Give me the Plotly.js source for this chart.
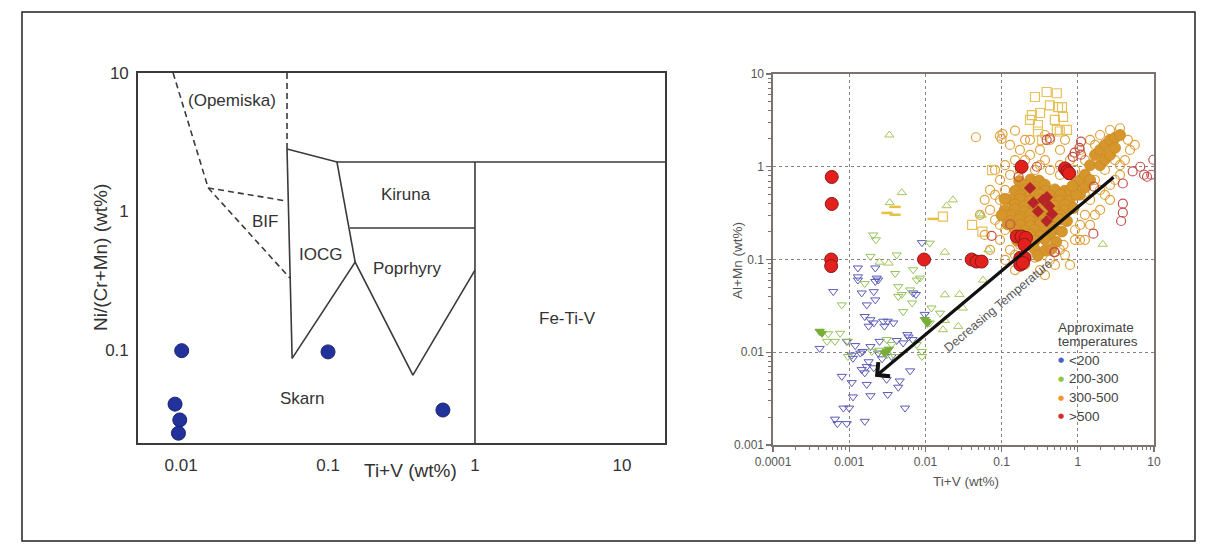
<!DOCTYPE html>
<html><head><meta charset="utf-8">
<script src="https://cdn.plot.ly/plotly-3.0.1.min.js"></script>
<style>html,body{margin:0;padding:0;background:#fff}#chart{width:1216px;height:554px}</style>
</head><body><div id="chart"></div>
<script>
// ---------- Left panel: Ni/(Cr+Mn) vs Ti+V discrimination diagram ----------
const oreX = [0.0101, 0.0091, 0.0098, 0.0096, 0.1, 0.605];
const oreY = [0.099, 0.0407, 0.0313, 0.0251, 0.097, 0.0369];
// field boundaries (solid), segments separated by null
const fieldSolidX = [0.0526, 0.115, 25, null, 0.0526, 0.057, null, 0.115, 0.153, null, 0.057, 0.153, 0.378, 1, null, 0.141, 1, null, 1, 1];
const fieldSolidY = [2.83, 2.28, 2.28, null, 2.83, 0.087, null, 2.28, 0.432, null, 0.087, 0.432, 0.066, 0.378, null, 0.76, 0.76, null, 2.28, 0.01];
// field boundaries (dashed)
const fieldDashX = [0.00883, 0.0153, 0.055, null, 0.0153, 0.0526, null, 0.0526, 0.0526];
const fieldDashY = [10, 1.48, 0.331, null, 1.48, 1.19, null, 10, 2.83];
const fieldNames = ['(Opemiska)', 'BIF', 'IOCG', 'Kiruna', 'Poprhyry', 'Fe-Ti-V', 'Skarn'];
const fieldLabelX = [0.0222, 0.0373, 0.0895, 0.34, 0.35, 4.29, 0.0665];
const fieldLabelY = [6.38, 0.854, 0.493, 1.32, 0.39, 0.17, 0.045];
const leftXTicks = [0.01, 0.1, 1, 10];
const leftXTickText = ['0.01', '0.1', '1', '10'];
const leftYTicks = [0.1, 1, 10];
const leftYTickText = ['0.1', '1', '10'];

// ---------- Right panel: Al+Mn vs Ti+V by temperature ----------
const lt200X = [0.000618,0.00146,0.0021,0.0017,0.0022,0.0016,0.0019,0.0021,0.0018,0.0028,0.0032,0.0038,0.0029,0.006,0.0068,0.0098,0.0051,0.0042,0.00041,0.00108,0.00112,0.0014,0.0015,0.0018,0.0017,0.0021,0.00146,0.0016,0.0008,0.00108,0.0017,0.0031,0.0046,0.0044,0.0019,0.0032,0.0063,0.00112,0.001,0.00084,0.00065,0.0007,0.00093,0.0016,0.0054,0.0024,0.0013,0.0069,0.0075,0.00093,0.0058,0.009,0.0013,0.0022,0.0013,0.0023,0.0022,0.0025,0.0012,0.0036,0.0024,0.0019,0.0027];
const lt200Y = [0.0451,0.0436,0.045,0.0324,0.0367,0.0243,0.0224,0.0207,0.0191,0.0216,0.0216,0.0207,0.0191,0.0146,0.0137,0.0256,0.0126,0.0134,0.011,0.0093,0.0086,0.0098,0.0102,0.0079,0.007,0.0068,0.0065,0.006,0.0055,0.0047,0.0045,0.0051,0.0049,0.0042,0.0034,0.0035,0.0063,0.0033,0.0025,0.0025,0.0019,0.0017,0.0017,0.0018,0.0025,0.06,0.06,0.0436,0.042,0.0131,0.0155,0.152,0.081,0.081,0.065,0.063,0.058,0.0131,0.0118,0.009,0.0098,0.0115,0.0085];
const t200DownX = [0.00206,0.00224,0.0042,0.0019,0.0016,0.004,0.0069,0.0085,0.0114,0.0008,0.00041,0.00053,0.00076,0.00065,0.00051,0.00096,0.0044,0.0049,0.0063,0.0051,0.0067,0.0031,0.0036,0.00198,0.0025,0.0031,0.004,0.0077,0.009,0.00096,0.0044,0.0077,0.0156,0.0114,0.009,0.012];
const t200DownY = [0.184,0.163,0.112,0.108,0.055,0.0707,0.0775,0.063,0.15,0.0324,0.0168,0.0158,0.016,0.0131,0.0131,0.0131,0.051,0.042,0.047,0.0274,0.034,0.0137,0.0121,0.0102,0.0105,0.0094,0.009,0.0121,0.009,0.009,0.04,0.06,0.0264,0.0207,0.0102,0.03];
const t200FillX = [0.00041,0.00044,0.0031,0.0033,0.0029,0.0102,0.0106,0.0098];
const t200FillY = [0.0168,0.016,0.0102,0.0108,0.0098,0.0216,0.0205,0.0225];
const t200UpX = [0.00336,0.0034,0.0049,0.0025,0.019,0.018,0.0033,0.023,0.055,0.067,0.018,0.028,0.031,0.017,0.027,0.057,0.018,0.052,2.13];
const t200UpY = [2.2,0.41,0.526,0.0935,0.38,0.12,0.0914,0.44,0.3,0.127,0.0416,0.042,0.03,0.0175,0.019,0.06,0.022,0.31,0.146];
const t300CircX = [0.046,0.095,0.103,0.15,0.1,0.129,0.174,0.236,0.319,0.371,0.432,0.584,0.236,0.584,0.432,0.0953,0.082,0.0705,0.082,0.0953,0.129,0.111,0.203,0.319,0.502,0.679,0.919,1.07,1.24,1.45,1.96,2.65,3.58,4.16,4.84,4.55,3.58,1.96,1.45,1.07,0.79,0.584,0.06,0.052,0.06,1.68,1.24,0.79,0.371,0.15,0.0705,0.129,0.174,0.111,2.65,3.08,2.27,1.68,0.919,0.65,0.274,0.095,0.111,1.24,0.79,0.274,0.319,0.203,
  0.082,0.111,0.15,0.0953,0.0705,0.129,0.111,0.174,0.15,0.432,0.584,1.07,1.45,1.96,2.27,3.08,3.58,5.6,2.65,1.68,1.24,0.679,0.371,0.203,0.919];
const t300CircY = [2.08,2.15,2.25,2.45,2.0,1.72,1.52,1.34,1.52,1.18,1.95,1.52,1.95,1.04,0.924,0.721,0.497,0.342,0.267,0.163,0.127,0.099,0.0875,0.077,0.0875,0.112,0.163,0.236,0.303,0.439,0.562,0.637,0.816,1.18,1.52,1.95,2.6,2.2,1.95,1.52,1.18,0.816,0.44,0.303,0.184,0.303,0.163,0.0875,0.068,0.077,0.127,0.816,0.924,0.562,0.44,1.18,0.924,0.72,0.208,0.144,0.105,0.236,0.388,0.497,0.816,0.924,1.04,1.18,
  0.924,1.04,1.18,0.439,0.562,0.303,0.208,0.144,0.112,0.099,0.127,0.163,0.236,0.342,0.497,0.721,1.04,1.72,2.49,1.72,1.18,1.95,2.2,1.95,0.924];
const t300SqX = [0.274,0.39,0.53,0.25,0.32,0.55,0.62,0.5,0.64,0.3,0.53,0.72,0.58,0.3,0.075,0.041,0.056,0.017,0.43,0.236,0.34];
const t300SqY = [5.65,6.4,6.2,3.6,3.8,4.4,4.4,3.2,3.45,2.82,2.5,2.5,2.4,2.4,0.92,0.236,0.2,0.29,4.6,3.2,1.95];
const t300DashX = [0.00313,0.004,0.004,0.0126];
const t300DashY = [0.318,0.369,0.304,0.274];
const t300DenseX = [0.17,0.24,0.31, 0.2,0.28,0.37, 0.15,0.205,0.27,0.37,0.5,0.67, 0.175,0.24,0.32,0.43,0.59, 0.13,0.175,0.235,0.32,0.43,0.58,0.78, 0.15,0.2,0.275,0.37,0.5,0.68, 0.11,0.15,0.2,0.27,0.37,0.5,0.68, 0.13,0.175,0.24,0.32,0.43,0.59, 0.13,0.17,0.235,0.32,0.43,0.58, 0.175,0.24,0.32,0.43, 0.15,0.2,0.27,0.37,0.5, 0.235,0.32,0.43, 0.2,0.275,0.37, 0.27,0.37, 0.92,1.07,1.24,1.25,1.07,0.79,1.45,1.45,1.68,1.96,1.96,2.27,2.27,2.65,2.65,3.08,3.08,3.58,
  0.1,0.11,0.62,0.72,0.88,0.52,0.45,0.3,0.95,0.85,0.12,0.16];
const t300DenseY = [0.7,0.73,0.71, 0.63,0.61,0.64, 0.55,0.57,0.56,0.55,0.57,0.55, 0.49,0.51,0.5,0.49,0.5, 0.44,0.45,0.43,0.44,0.45,0.43,0.44, 0.39,0.38,0.39,0.4,0.38,0.39, 0.34,0.35,0.33,0.34,0.35,0.33,0.34, 0.3,0.29,0.31,0.3,0.29,0.3, 0.26,0.27,0.26,0.27,0.26,0.27, 0.235,0.23,0.24,0.235, 0.21,0.205,0.21,0.2,0.21, 0.185,0.18,0.19, 0.165,0.16,0.165, 0.13,0.125, 0.64,0.72,0.82,0.6,0.5,0.56,1.04,0.72,1.34,1.52,1.04,1.72,1.2,1.95,1.34,2.05,1.6,2.2,
  0.3,0.45,0.2,0.26,0.36,0.155,0.13,0.11,0.5,0.62,0.24,0.16];
const gt500CircX = [5.25,6.6,7.4,8.1,9.2,9.8,3.9,3.9,3.9,3.7,1.6,0.49,0.13,0.074,0.167,0.29,0.39,1.1,0.91,1.63,0.43,0.86,1.05,1.1,0.5];
const gt500CircY = [0.89,1.0,0.82,0.78,0.82,1.19,0.66,0.4,0.32,0.26,0.19,0.12,0.24,0.18,0.78,1.0,1.95,1.87,1.42,0.61,2.03,1.28,1.6,1.35,0.12];
const gt500DiaX = [0.236,0.26,0.394,0.42,0.46,0.39,0.35,0.3];
const gt500DiaY = [0.59,0.41,0.47,0.378,0.31,0.26,0.44,0.33];
const gt500FillX = [0.00059,0.00059,0.00058,0.00058,0.0096,0.0405,0.0469,0.0547,0.158,0.183,0.209,0.2,0.176,0.2,0.176,0.19,0.183,0.68,0.73,0.77];
const gt500FillY = [0.776,0.397,0.1,0.085,0.1,0.1,0.095,0.095,0.177,0.177,0.171,0.144,0.104,0.104,0.088,0.092,1.0,0.96,0.89,0.85];
const rightTicks = [0.0001, 0.001, 0.01, 0.1, 1, 10];
const rightTickText = ['0.0001', '0.001', '0.01', '0.1', '1', '10'];
const rightYTicks = [0.001, 0.01, 0.1, 1, 10];
const rightYTickText = ['0.001', '0.01', '0.1', '1', '10'];
const legendNames = ['<200', '200-300', '300-500', '>500'];
const legendColors = ['#4a62c8', '#8dc63f', '#f0962a', '#d42a2a'];
const trendFrom = [3.08, 0.796];
const trendTo = [0.00218, 0.00543];

const W = 1216, H = 554;
const FONT = 'Liberation Sans, Arial, sans-serif';
const px = p => p / W, py = p => 1 - p / H;

function pts(x, y, symbol, color, size, lw, extra) {
  return Object.assign({
    type: 'scatter', mode: 'markers', x: x, y: y, xaxis: 'x2', yaxis: 'y2', showlegend: false, hoverinfo: 'skip',
    marker: {symbol: symbol, size: size, color: color, line: {color: color, width: lw}}
  }, extra || {});
}

const traces = [
  {type:'scatter', mode:'lines', x: fieldSolidX, y: fieldSolidY, line:{color:'#3a3a3a', width:1.6}, connectgaps:false, showlegend:false, hoverinfo:'skip'},
  {type:'scatter', mode:'lines', x: fieldDashX, y: fieldDashY, line:{color:'#3a3a3a', width:1.6, dash:'6px,4px'}, connectgaps:false, showlegend:false, hoverinfo:'skip'},
  {type:'scatter', mode:'markers', x: oreX, y: oreY, marker:{size:14, color:'#23329a', line:{color:'#1a2470', width:1}}, showlegend:false},
  pts(lt200X, lt200Y, 'triangle-down-open', '#5a5ab8', 8, 1),
  pts(t200DownX, t200DownY, 'triangle-down-open', '#96c25a', 8, 1),
  pts(t200UpX, t200UpY, 'triangle-up-open', '#a6c65e', 8, 1),
  pts(t200FillX, t200FillY, 'triangle-down', '#78ae38', 8, 1),
  pts(t300CircX, t300CircY, 'circle-open', '#e0a23e', 9, 1.2),
  pts(t300SqX, t300SqY, 'square-open', '#e6c058', 9, 1.2),
  pts(t300DashX, t300DashY, 'line-ew-open', '#e8c040', 8, 2.5),
  pts(t300DenseX, t300DenseY, 'circle', '#d6942a', 11, 0.8, {marker:{symbol:'circle', size:11, color:'#d6962c', line:{color:'#c88a22', width:0.8}}}),
  pts(gt500CircX, gt500CircY, 'circle-open', '#c4504e', 9, 1.2),
  pts(gt500DiaX, gt500DiaY, 'diamond', '#b52527', 9, 0.5),
  pts(gt500FillX, gt500FillY, 'circle', '#e3201c', 13, 1, {marker:{symbol:'circle', size:13, color:'#e3201c', line:{color:'#8a1a1a', width:1}}})
];

function txt(o) { return Object.assign({showarrow:false, xanchor:'center', yanchor:'middle'}, o); }

const annotations = [];
fieldNames.forEach((t, i) => annotations.push(txt({xref:'x', yref:'y', x:Math.log10(fieldLabelX[i]), y:Math.log10(fieldLabelY[i]), text:t, font:{family:FONT, size:17, color:'#333'}})));
// axis titles
annotations.push(txt({xref:'paper', yref:'paper', x:px(410), y:py(470), text:'Ti+V (wt%)', font:{family:FONT, size:19, color:'#333'}}));
annotations.push(txt({xref:'paper', yref:'paper', x:px(100), y:py(258), text:'Ni/(Cr+Mn) (wt%)', textangle:-90, font:{family:FONT, size:19, color:'#333'}}));
annotations.push(txt({xref:'paper', yref:'paper', x:px(966), y:py(481), text:'Ti+V (wt%)', font:{family:FONT, size:13.5, color:'#555'}}));
annotations.push(txt({xref:'paper', yref:'paper', x:px(737), y:py(261), text:'Al+Mn (wt%)', textangle:-90, font:{family:FONT, size:13.5, color:'#555'}}));
// trend arrow
annotations.push({xref:'x2', yref:'y2', axref:'x2', ayref:'y2', x:Math.log10(trendTo[0]), y:Math.log10(trendTo[1]), ax:Math.log10(trendFrom[0]), ay:Math.log10(trendFrom[1]), text:'', showarrow:true, arrowhead:4, arrowsize:1.1, arrowwidth:3.2, arrowcolor:'#111', standoff:0, startstandoff:0});
annotations.push(txt({xref:'paper', yref:'paper', x:px(998), y:py(306), text:'Decreasing Temperature', textangle:-40, font:{family:FONT, size:12.5, color:'#555'}}));
// legend
annotations.push(txt({xref:'paper', yref:'paper', x:px(1056), y:py(327), xanchor:'left', text:'Approximate', font:{family:FONT, size:13.5, color:'#444'}}));
annotations.push(txt({xref:'paper', yref:'paper', x:px(1056), y:py(341), xanchor:'left', text:'temperatures', font:{family:FONT, size:13.5, color:'#444'}}));
const legY = [360, 378.5, 397.5, 416];
legendNames.forEach((t, i) => {
  annotations.push(txt({xref:'paper', yref:'paper', x:px(1061), y:py(legY[i]), text:'●', font:{family:'DejaVu Sans', size:7, color:legendColors[i]}}));
  annotations.push(txt({xref:'paper', yref:'paper', x:px(1067), y:py(legY[i]), xanchor:'left', text:t, font:{family:FONT, size:13.5, color:'#444'}}));
});

const rAxisColor = '#7d7272';
const layout = {
  width: W, height: H, margin:{l:0, r:0, t:0, b:0}, paper_bgcolor:'#fff', plot_bgcolor:'rgba(0,0,0,0)',
  font:{family:FONT, color:'#333'}, showlegend:false,
  xaxis: {type:'log', domain:[px(138), px(665)], range:[-2.293, 1.293], anchor:'y', showline:true, mirror:true, linecolor:'#3a3a3a', linewidth:1.8,
    showgrid:false, zeroline:false, ticks:'', tickmode:'array', tickvals:leftXTicks, ticktext:leftXTickText, tickfont:{size:17, color:'#333'}, ticklabelstandoff:6},
  yaxis: {type:'log', domain:[py(443), py(73)], range:[-1.671, 1], anchor:'x', showline:true, mirror:true, linecolor:'#3a3a3a', linewidth:1.8,
    showgrid:false, zeroline:false, ticks:'', tickmode:'array', tickvals:leftYTicks, ticktext:leftYTickText, tickfont:{size:17, color:'#333'}, ticklabelstandoff:4},
  xaxis2: {type:'log', domain:[px(773), px(1154)], range:[-4, 1], anchor:'y2', showline:true, mirror:true, linecolor:rAxisColor, linewidth:1.6,
    showgrid:true, gridcolor:'#8c8080', gridwidth:1, griddash:'3px,3px', zeroline:false, ticks:'outside', ticklen:5, tickwidth:1.2, tickcolor:rAxisColor,
    tickmode:'array', tickvals:rightTicks, ticktext:rightTickText, tickfont:{size:12, color:'#555'},
    minor:{ticks:'outside', ticklen:3, tickwidth:1, tickcolor:rAxisColor, dtick:'D1', showgrid:false}},
  yaxis2: {type:'log', domain:[py(445), py(74)], range:[-3, 1], anchor:'x2', showline:true, mirror:true, linecolor:rAxisColor, linewidth:1.6,
    showgrid:true, gridcolor:'#8c8080', gridwidth:1, griddash:'3px,3px', zeroline:false, ticks:'outside', ticklen:5, tickwidth:1.2, tickcolor:rAxisColor,
    tickmode:'array', tickvals:rightYTicks, ticktext:rightYTickText, tickfont:{size:12, color:'#555'},
    minor:{ticks:'outside', ticklen:3, tickwidth:1, tickcolor:rAxisColor, dtick:'D1', showgrid:false}},
  shapes: [{type:'rect', xref:'paper', yref:'paper', x0:px(22), x1:px(1195), y0:py(541), y1:py(12), line:{color:'#222', width:1.5}, fillcolor:'rgba(0,0,0,0)'}],
  annotations: annotations
};
Plotly.newPlot('chart', traces, layout, {staticPlot:true, displayModeBar:false});
</script></body></html>
